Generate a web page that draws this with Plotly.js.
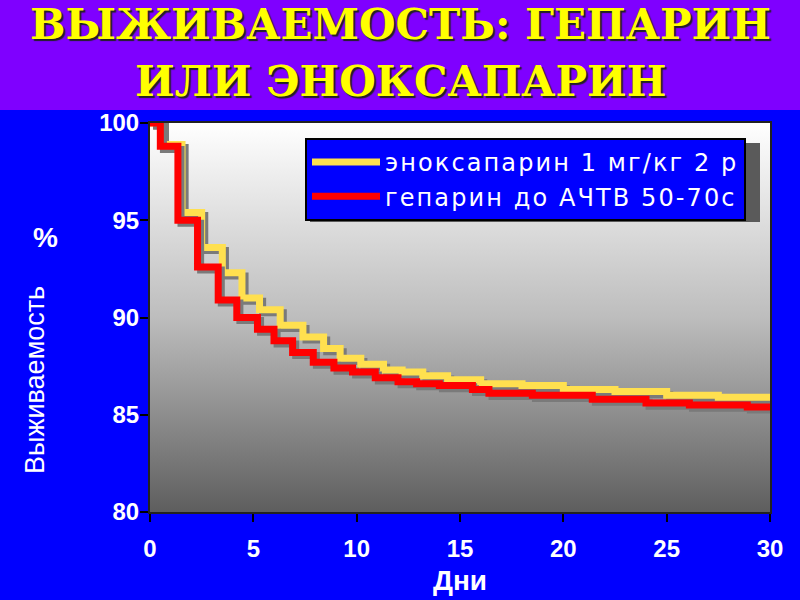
<!DOCTYPE html>
<html>
<head>
<meta charset="utf-8">
<script src="https://cdn.plot.ly/plotly-3.0.1.min.js"></script>
<style>
html,body{margin:0;padding:0;background:#0000ff;}
#chart{width:800px;height:600px;}
.legendtext{letter-spacing:2.1px;}
</style>
</head>
<body>
<div id="chart"></div>
<script>
// Data (days, survival %)
const enoxDays = [0, 0.6, 1.55, 2.5, 3.5, 4.45, 5.3, 6.3, 7.4, 8.4, 9.2, 10.2, 11.3, 12.2, 13.2, 14.4, 16, 18, 20, 22.5, 25, 27.5, 30];
const enoxSurv = [100, 98.9, 95.4, 93.6, 92.3, 91.0, 90.4, 89.6, 89.0, 88.4, 87.9, 87.6, 87.3, 87.2, 87.0, 86.8, 86.6, 86.5, 86.3, 86.2, 86.0, 85.9, 85.8];
const hepDays = [0, 0.5, 1.35, 2.3, 3.3, 4.2, 5.2, 6.0, 6.9, 7.9, 8.9, 9.8, 10.9, 12.0, 12.9, 14.0, 15.6, 16.4, 18.5, 21.4, 24.0, 26.1, 28.9, 30];
const hepSurv = [100, 98.8, 95.0, 92.6, 90.9, 90.0, 89.4, 88.8, 88.2, 87.7, 87.4, 87.2, 86.9, 86.7, 86.6, 86.5, 86.3, 86.1, 86.0, 85.8, 85.6, 85.5, 85.4, 85.3];
const seriesNames = ['эноксапарин 1 мг/кг 2 р', 'гепарин до АЧТВ 50-70с'];
const xTicks = [0, 5, 10, 15, 20, 25, 30];
const yTicks = [80, 85, 90, 95, 100];
const titleLines = ['ВЫЖИВАЕМОСТЬ: ГЕПАРИН', 'ИЛИ ЭНОКСАПАРИН'];
const xTitle = 'Дни';
const yTitle = 'Выживаемость';

// shadow offset in data units (small drop shadow like the original slide)
const sdx = 0.15, sdy = 0.16;
function shadow(xs, ys) {
  return {x: xs.map(v => v + sdx), y: ys.map(v => v - sdy), mode: 'lines',
    line: {shape: 'hv', color: '#7a7a7a', width: 7}, showlegend: false, hoverinfo: 'skip'};
}

const traces = [
  shadow(enoxDays, enoxSurv),
  {x: enoxDays, y: enoxSurv, name: seriesNames[0], mode: 'lines',
   line: {shape: 'hv', color: '#ffe04f', width: 7}},
  shadow(hepDays, hepSurv),
  {x: hepDays, y: hepSurv, name: seriesNames[1], mode: 'lines',
   line: {shape: 'hv', color: '#ff0000', width: 7}}
];

const grad = 'data:image/svg+xml;utf8,' + encodeURIComponent(
  '<svg xmlns="http://www.w3.org/2000/svg" width="100" height="100" preserveAspectRatio="none">' +
  '<defs><linearGradient id="g" x1="0" y1="0" x2="0" y2="1">' +
  '<stop offset="0" stop-color="#ffffff"/><stop offset="0.5" stop-color="#bdbdbd"/><stop offset="1" stop-color="#5e5e5e"/>' +
  '</linearGradient></defs><rect width="100" height="100" fill="url(#g)"/></svg>');

const M = {l: 150, r: 30, t: 123, b: 88};
const plotH = 600 - M.t - M.b;
const plotW = 800 - M.l - M.r;
const py = px => 1 - (px - M.t) / plotH;   // pixel y -> paper y
const pxx = px => (px - M.l) / plotW;      // pixel x -> paper x

const titleFont = {family: 'DejaVu Serif', size: 42, color: '#ffff00', weight: 'bold', shadow: '2px 2px 1px #222'};

const layout = {
  width: 800, height: 600,
  margin: M,
  paper_bgcolor: '#0000ff',
  plot_bgcolor: 'rgba(0,0,0,0)',
  xaxis: {
    range: [0, 30], tickvals: xTicks, ticks: 'outside', ticklen: 8, tickwidth: 2, tickcolor: '#000',
    showgrid: false, zeroline: false, showline: true, mirror: true, linecolor: '#222', linewidth: 2,
    ticklabelstandoff: 6,
    tickfont: {family: 'Liberation Sans', size: 24, color: '#ffffff', weight: 'bold'},
    title: {text: xTitle, standoff: 10, font: {family: 'Liberation Sans', size: 28, color: '#ffffff', weight: 'bold'}}
  },
  yaxis: {
    range: [80, 100], tickvals: yTicks, ticks: 'outside', ticklen: 8, tickwidth: 2, tickcolor: '#000',
    showgrid: false, zeroline: false, showline: true, mirror: true, linecolor: '#222', linewidth: 2,
    ticklabelstandoff: -4,
    tickfont: {family: 'Liberation Sans', size: 24, color: '#ffffff', weight: 'bold'}
  },
  legend: {
    x: pxx(305), xanchor: 'left', y: py(138), yanchor: 'top',
    bgcolor: '#0000ff', bordercolor: '#000', borderwidth: 2, itemwidth: 68,
    font: {family: 'DejaVu Sans', size: 24, color: '#ffffff'}
  },
  images: [{source: grad, xref: 'x', yref: 'y', x: 0, y: 100, sizex: 30, sizey: 20,
            sizing: 'stretch', xanchor: 'left', yanchor: 'top', layer: 'below'}],
  shapes: [
    {type: 'rect', xref: 'paper', yref: 'paper', x0: -0.3, x1: 1.1, y0: py(110), y1: py(-5),
     fillcolor: '#7f00ff', line: {width: 0}, layer: 'below'},
    {type: 'rect', xref: 'paper', yref: 'paper', x0: pxx(310), x1: pxx(760), y0: py(222), y1: py(143),
     fillcolor: '#5a5a5a', line: {width: 0}, layer: 'above'}
  ],
  annotations: [
    {text: titleLines[0], xref: 'paper', yref: 'paper', x: pxx(400), y: py(24), xanchor: 'center', yanchor: 'middle',
     showarrow: false, font: titleFont},
    {text: titleLines[1], xref: 'paper', yref: 'paper', x: pxx(400), y: py(82), xanchor: 'center', yanchor: 'middle',
     showarrow: false, font: titleFont},
    {text: yTitle, xref: 'paper', yref: 'paper', x: pxx(35), y: py(380), textangle: -90,
     xanchor: 'center', yanchor: 'middle',
     showarrow: false, font: {family: 'Liberation Sans', size: 27, color: '#ffffff'}},
    {text: '%', xref: 'paper', yref: 'paper', x: pxx(45), y: py(238), xanchor: 'center', yanchor: 'middle',
     showarrow: false, font: {family: 'Liberation Sans', size: 28, color: '#ffffff', weight: 'bold'}}
  ]
};

Plotly.newPlot('chart', traces, layout, {displayModeBar: false, staticPlot: true});
</script>
</body>
</html>
